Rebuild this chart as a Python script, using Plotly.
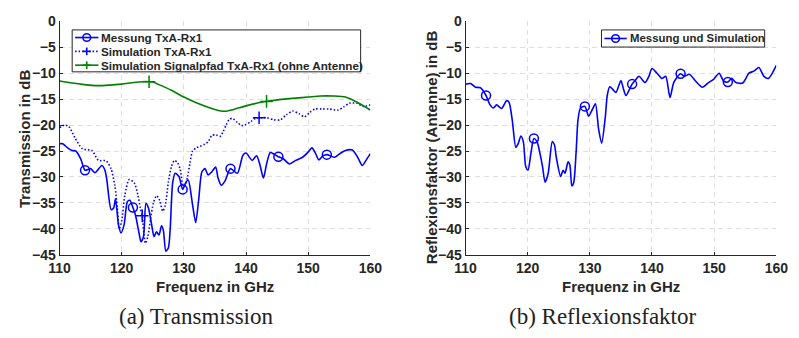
import numpy as np
import plotly.graph_objects as go

# ---------------- data: (a) Transmission ----------------
f_mess = [110, 110.5, 111.3, 112.0, 112.6, 113.4, 114.1, 115.0, 115.7, 116.8, 117.3, 117.6, 118.3, 118.7,
          119.0, 119.5, 119.9, 120.4, 120.9, 121.3, 121.8, 122.2, 122.8, 123.1, 123.5, 123.9, 124.3,
          124.8, 125.2, 125.6, 126.0, 126.4, 126.7, 127.1, 127.5, 127.8, 128.2, 128.6, 129.2, 129.8,
          130.3, 130.7, 131.4, 131.9, 132.4, 132.9, 133.4, 133.9, 134.5, 135.1, 135.5, 136.0, 136.6,
          137.5, 138.6, 139.5, 140.0, 141.0, 141.7, 142.2, 142.8, 143.3, 143.9, 144.5, 145.2, 146.0,
          147.0, 148.0, 149.1, 150.0, 150.6, 151.2, 151.7, 152.3, 153.0, 154.2, 155.0, 155.8, 157.1,
          158.0, 158.7, 159.3, 160]
db_mess = [-23.6, -23.6, -24.4, -24.9, -25.0, -26.5, -28.7, -28.4, -29.2, -27.8, -28.7, -30.5, -36.3, -36.0,
           -34.2, -39.4, -40.8, -39.1, -34.8, -34.5, -35.9, -37.3, -40.9, -42.5, -41.5, -35.1, -36.0,
           -39.1, -41.5, -40.6, -41.2, -39.4, -40.3, -44.3, -43.7, -40.0, -31.1, -29.3, -29.9, -32.4,
           -31.1, -30.6, -35.4, -38.8, -34.2, -29.0, -28.4, -29.6, -29.0, -28.1, -30.2, -31.6, -30.8,
           -28.4, -29.3, -25.8, -25.4, -26.8, -25.9, -27.5, -30.2, -27.5, -25.3, -25.6, -26.1, -26.5,
           -27.5, -26.8, -26.2, -25.2, -24.4, -25.5, -26.7, -26.0, -25.7, -26.2, -25.6, -25.0, -24.8,
           -26.3, -27.8, -26.8, -25.5]
mark_mess = [114.1, 121.8, 129.8, 137.5, 145.2, 153.0]

f_sim = [110, 110.8, 111.5, 112.5, 113.7, 115.2, 116.25, 117.5, 118.3, 118.9, 119.3, 119.6, 120.0, 120.5,
         121.2, 122.0, 122.6, 123.0, 123.3, 123.8, 124.2, 124.6, 125.1, 125.6, 126.1, 126.6, 127.0,
         127.5, 128.0, 128.5, 129.0, 129.4, 129.9, 130.3, 130.6, 131.0, 131.4, 132.0, 132.6, 133.3,
         133.9, 134.5, 135.2, 135.8, 136.3, 136.8, 137.3, 137.8, 138.6, 139.3, 139.8, 140.8, 141.5,
         142.1, 143.4, 144.5, 145.5, 146.5, 147.5, 148.5, 149.4, 150.3, 151.1, 152.2, 153.3, 154.8,
         155.7, 156.6, 157.9, 158.8, 160]
db_sim = [-20.5, -20.0, -20.3, -22.5, -24.6, -24.9, -26.8, -26.9, -28.5, -31.7, -36.0, -40.0, -38.5, -33.5,
          -30.5, -31.1, -33.5, -36.0, -37.5, -42.8, -41.5, -38.4, -35.0, -33.6, -34.5, -36.6, -35.5,
          -31.0, -28.0, -26.8, -27.3, -28.5, -31.8, -31.3, -29.9, -27.2, -25.0, -24.4, -24.1, -23.7,
          -23.2, -22.0, -21.9, -22.2, -21.3, -20.0, -18.9, -18.7, -19.5, -20.1, -20.0, -19.3, -18.7,
          -18.6, -18.6, -19.0, -19.0, -18.0, -17.3, -17.8, -18.4, -17.5, -16.9, -16.9, -16.9, -17.1,
          -16.5, -15.8, -15.8, -16.4, -16.1]
mark_sim = [123.3, 142.1]

f_pfad = [110, 112, 114, 116, 118, 120, 122, 124, 125, 126, 128, 130, 132, 134, 136, 137, 138, 140,
          142, 144, 146, 148, 150, 152, 154, 156, 158, 160]
db_pfad = [-11.5, -11.9, -12.2, -12.4, -12.3, -12.1, -11.8, -11.6, -11.7, -12.2, -13.3, -14.6, -15.7,
           -16.6, -17.3, -17.3, -17.0, -16.3, -15.7, -15.3, -15.0, -14.8, -14.6, -14.4, -14.4, -14.6,
           -15.7, -17.1]
mark_pfad = [124.4, 143.3]

# ---------------- data: (b) Reflexionsfaktor ----------------
f_refl = [110, 110.8, 111.6, 112.4, 113.3, 113.95, 114.5, 115.0, 115.8, 116.6, 117.0, 117.5, 118.1, 118.5,
          118.9, 119.3, 119.7, 120.05, 120.5, 121.0, 121.5, 122.0, 122.4, 122.8, 123.3, 123.95, 124.3,
          124.6, 125.3, 125.7, 126.0, 126.5, 126.8, 127.1, 127.4, 127.8, 128.1, 128.5, 129.2, 129.8,
          130.4, 130.9, 131.4, 131.9, 132.5, 132.8, 133.2, 133.75, 134.2, 135.0, 135.4, 135.8, 136.8,
          137.3, 137.9, 138.9, 139.5, 140.0, 140.8, 141.6, 142.2, 142.9, 143.5, 144.6, 145.2, 146.0,
          147.0, 148.1, 149.1, 149.9, 150.8, 151.5, 152.2, 152.8, 153.5, 154.6, 155.6, 156.4, 157.2,
          158.0, 158.75, 160]
db_refl = [-12.1, -12.0, -12.7, -12.8, -14.3, -16.1, -16.7, -16.1, -16.8, -15.3, -15.6, -18.9, -24.3, -23.5,
           -22.1, -23.2, -28.1, -28.7, -25.6, -22.6, -23.2, -25.6, -28.1, -31.0, -29.3, -23.2, -23.8,
           -26.2, -29.9, -28.7, -29.3, -27.1, -27.8, -31.7, -31.1, -25.0, -18.9, -16.7, -16.4, -18.3,
           -17.0, -15.9, -20.7, -23.5, -18.3, -14.3, -12.6, -13.2, -13.7, -11.4, -13.0, -14.3, -12.1,
           -11.4, -10.6, -11.8, -10.6, -9.1, -10.0, -11.0, -10.6, -14.7, -11.8, -10.1, -10.6, -10.2,
           -11.5, -12.7, -11.8, -11.2, -10.0, -11.5, -11.7, -11.0, -11.8, -11.9, -10.0, -9.6, -8.9,
           -10.6, -11.0, -8.5]
mark_refl = [113.3, 121.0, 129.2, 136.8, 144.6, 152.2]

x_ticks = [110, 120, 130, 140, 150, 160]
y_ticks = [0, -5, -10, -15, -20, -25, -30, -35, -40, -45]

names_a = ["Messung TxA-Rx1", "Simulation TxA-Rx1", "Simulation Signalpfad TxA-Rx1 (ohne Antenne)"]
names_b = ["Messung und Simulation"]

BLUE = "#0000ff"
GREEN = "#008000"
W, H = 799, 338
FONT = "Liberation Sans"
DOT = "1.5px,2px"
DARK = "#262626"

fig = go.Figure()


def add_series(xa, ya, fx, fy, mx, color, dash, symbol):
    fig.add_trace(go.Scatter(x=fx, y=fy, mode="lines",
                             line=dict(color=color, width=1.6, dash=dash, shape="spline", smoothing=0.7),
                             xaxis=xa, yaxis=ya, showlegend=False, hoverinfo="skip"))
    my = np.interp(mx, fx, fy)
    fig.add_trace(go.Scatter(x=mx, y=my, mode="markers",
                             marker=dict(symbol=symbol, size=9, color=color,
                                         line=dict(color=color, width=1.5)),
                             xaxis=xa, yaxis=ya, showlegend=False, hoverinfo="skip"))


add_series("x", "y", f_mess, db_mess, mark_mess, BLUE, "solid", "circle-open")
add_series("x", "y", f_sim, db_sim, mark_sim, BLUE, DOT, "cross-thin-open")
add_series("x", "y", f_pfad, db_pfad, mark_pfad, GREEN, "solid", "cross-thin-open")
add_series("x2", "y2", f_refl, db_refl, mark_refl, BLUE, "solid", "circle-open")

ax_common = dict(showline=True, linecolor=DARK, linewidth=1, mirror=False,
                 ticks="inside", ticklen=3, tickcolor=DARK,
                 showgrid=True, gridcolor="#dedede", gridwidth=1, griddash="5px,4px",
                 zeroline=False, tickfont=dict(family=FONT, size=14, color=DARK, weight="bold"))

yd = [1 - 259 / H, 1 - 14 / H]
fig.update_layout(
    width=W, height=H, margin=dict(l=0, r=0, t=0, b=0),
    paper_bgcolor="white", plot_bgcolor="white", showlegend=False,
    xaxis=dict(domain=[50 / W, 370 / W], range=[110, 160], tickvals=x_ticks, anchor="y", **ax_common),
    yaxis=dict(domain=yd, range=[-45, 0], tickvals=y_ticks, anchor="x", **ax_common),
    xaxis2=dict(domain=[468 / W, 788 / W], range=[110, 160], tickvals=x_ticks, anchor="y2", **ax_common),
    yaxis2=dict(domain=yd, range=[-45, 0], tickvals=y_ticks, anchor="x2", **ax_common),
)


# ---- legend boxes (layout decoration, pixel positions converted to paper) ----
def px(x):
    return x / W


def py(y):
    return 1 - y / H


def legend_box(x0, y0, x1, y1):
    fig.add_shape(type="rect", xref="paper", yref="paper", x0=px(x0), x1=px(x1), y0=py(y0), y1=py(y1),
                  line=dict(color=DARK, width=1), fillcolor="white", layer="above")


def legend_entry(lx0, lx1, yc, color, dash, symbol, text, size):
    fig.add_shape(type="line", xref="paper", yref="paper", x0=px(lx0), x1=px(lx1), y0=py(yc), y1=py(yc),
                  line=dict(color=color, width=1.6, dash=dash), layer="above")
    cx = (lx0 + lx1) / 2
    r = 4
    if symbol == "circle":
        fig.add_shape(type="circle", xref="paper", yref="paper", x0=px(cx - r), x1=px(cx + r),
                      y0=py(yc + r), y1=py(yc - r), line=dict(color=color, width=1.5), layer="above")
    else:
        fig.add_shape(type="line", xref="paper", yref="paper", x0=px(cx - r), x1=px(cx + r),
                      y0=py(yc), y1=py(yc), line=dict(color=color, width=1.6), layer="above")
        fig.add_shape(type="line", xref="paper", yref="paper", x0=px(cx), x1=px(cx),
                      y0=py(yc - r), y1=py(yc + r), line=dict(color=color, width=1.6), layer="above")
    fig.add_annotation(xref="paper", yref="paper", x=px(lx1 + 1), y=py(yc), text=text, showarrow=False,
                       xanchor="left", yanchor="middle",
                       font=dict(family=FONT, size=size, color=DARK, weight="bold"))


legend_box(63, 23, 360, 67)
legend_entry(66, 90, 31, BLUE, "solid", "circle", names_a[0], 11.7)
legend_entry(66, 90, 45.5, BLUE, DOT, "cross", names_a[1], 11.7)
legend_entry(66, 90, 60, GREEN, "solid", "cross", names_a[2], 11.7)

legend_box(608, 23, 776, 41)
legend_entry(611, 634, 32, BLUE, "solid", "circle", names_b[0], 11.4)

tfont = dict(family=FONT, size=15, color=DARK, weight="bold")
cfont = dict(family="Liberation Serif", size=23, color="#222222")
anns = [
    dict(x=210 / W, y=1 - 292 / H, text="Frequenz in GHz", font=tfont),
    dict(x=628 / W, y=1 - 292 / H, text="Frequenz in GHz", font=tfont),
    dict(x=14 / W, y=1 - 137 / H, text="Transmission in dB", font=tfont, textangle=-90),
    dict(x=432.5 / W, y=1 - 146 / H, text="Reflexionsfaktor (Antenne) in dB", font=tfont, textangle=-90),
    dict(x=190 / W, y=1 - 324 / H, text="(a) Transmission", font=cfont),
    dict(x=609 / W, y=1 - 324 / H, text="(b) Reflexionsfaktor", font=cfont),
]
for a in anns:
    fig.add_annotation(xref="paper", yref="paper", showarrow=False, xanchor="center", yanchor="middle", **a)

fig.write_html("out.html")
